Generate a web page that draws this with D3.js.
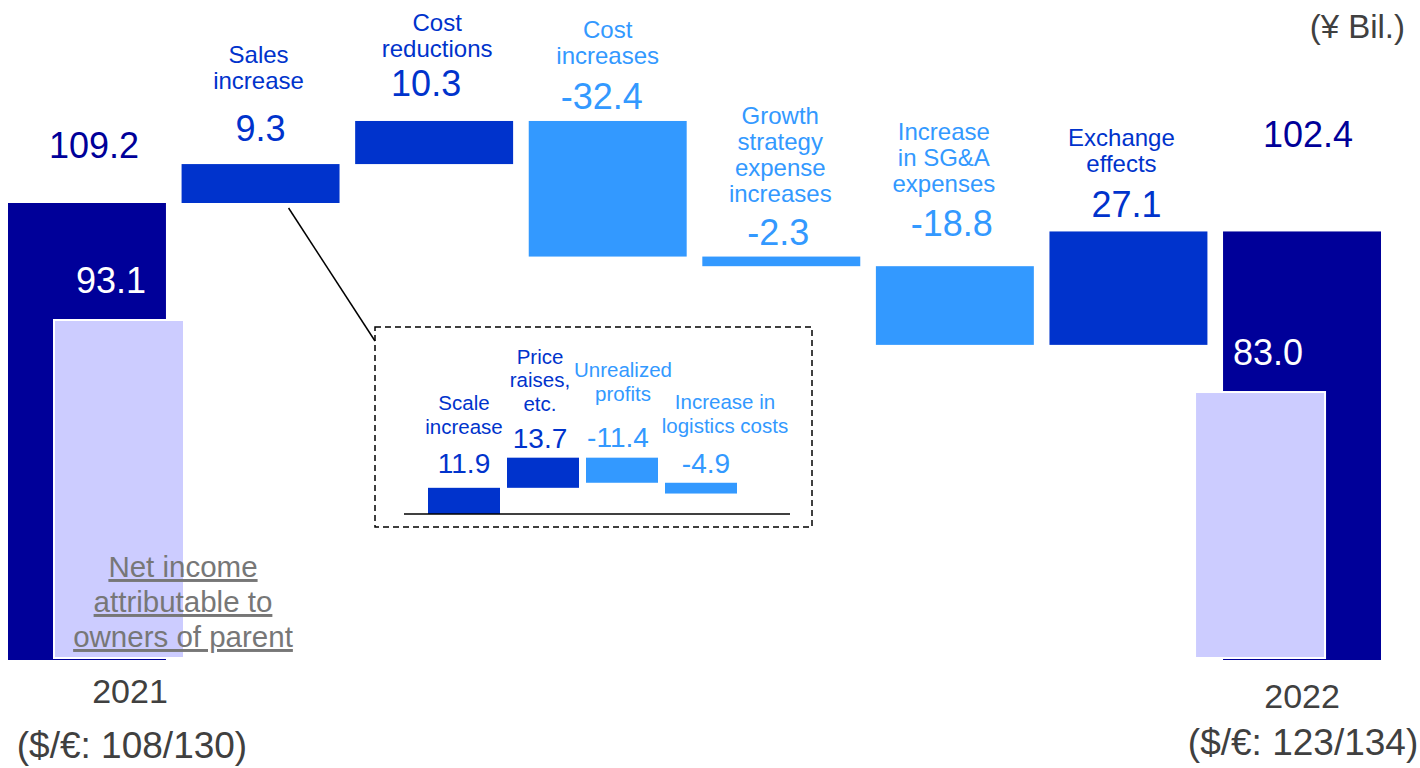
<!DOCTYPE html>
<html>
<head>
<meta charset="utf-8">
<script src="https://cdn.jsdelivr.net/npm/d3@7"></script>
<style>
  html, body { margin: 0; padding: 0; background: #ffffff; }
  svg { display: block; font-family: "Liberation Sans", Arial, sans-serif; }
</style>
</head>
<body>
<svg id="chart" width="1420" height="768"></svg>
<script>
// Net income bridge, FY2021 -> FY2022 (¥ billion)
const categories = ["2021", "Sales increase", "Cost reductions", "Cost increases",
  "Growth strategy expense increases", "Increase in SG&A expenses", "Exchange effects", "2022"];
const categoryLines = [
  [], ["Sales", "increase"], ["Cost", "reductions"], ["Cost", "increases"],
  ["Growth", "strategy", "expense", "increases"], ["Increase", "in SG&A", "expenses"],
  ["Exchange", "effects"], []
];
const kinds = ["total", "delta", "delta", "delta", "delta", "delta", "delta", "total"];
const values = [109.2, 9.3, 10.3, -32.4, -2.3, -18.8, 27.1, 102.4];

// Net income attributable to owners of parent
const netIncomeYears = ["2021", "2022"];
const netIncomeValues = [93.1, 83.0];
const fxLabels = ["($/€: 108/130)", "($/€: 123/134)"];

// Breakdown of the sales increase
const insetCategories = ["Scale increase", "Price raises, etc.", "Unrealized profits", "Increase in logistics costs"];
const insetLines = [["Scale", "increase"], ["Price", "raises,", "etc."], ["Unrealized", "profits"], ["Increase in", "logistics costs"]];
const insetValues = [11.9, 13.7, -11.4, -4.9];

const C = { total: "#000099", up: "#0033CC", down: "#3399FF", ni: "#CCCCFF", grey: "#404040", note: "#777777" };

// label placement: value-label lift above bar top, value x-nudge, gap to category text, category x-nudge
const mainLayout = [
  { lift: 45, dx: 7 }, { lift: 23, dx: 0, gap: 52, cdx: -2 }, { lift: 25, dx: -8, gap: 39, cdx: 3 },
  { lift: 12, dx: -6, gap: 45, cdx: 0 }, { lift: 12, dx: -3, gap: 43, cdx: -1 },
  { lift: 30, dx: -3, gap: 44, cdx: -11 }, { lift: 14, dx: -2, gap: 45, cdx: -7 }, { lift: 84, dx: 6 }
];
const insetLayout = [
  { lift: 15, dx: 0, gap: 39, cdx: 0 }, { lift: 10, dx: -3, gap: 37, cdx: -3 },
  { lift: 11, dx: -4, gap: 46, cdx: 1 }, { lift: 10, dx: 5, gap: 40, cdx: 24 }
];

const fmt = v => v.toFixed(1);
const svg = d3.select("#chart");

// ---- main waterfall ----
const x = d3.scaleBand().domain(categories).range([8, 1381]).paddingInner(0.09).paddingOuter(0);
const y = d3.scaleLinear().domain([0, 109.2]).range([660, 203]);
const yNI = d3.scaleLinear().domain([45.7, 93.1]).range([658, 320]);

let running = 0;
const steps = categories.map((c, i) => {
  let y0, y1;
  if (kinds[i] === "total") { y0 = 0; y1 = values[i]; running = values[i]; }
  else { y0 = running; y1 = running + values[i]; running = y1; }
  const color = kinds[i] === "total" ? C.total : (values[i] >= 0 ? C.up : C.down);
  return { c, i, y0, y1, v: values[i], color };
});

svg.append("g").selectAll("rect.step").data(steps).join("rect")
  .attr("class", "step")
  .attr("x", d => x(d.c))
  .attr("width", x.bandwidth())
  .attr("y", d => y(Math.max(d.y0, d.y1)))
  .attr("height", d => Math.abs(y(d.y0) - y(d.y1)))
  .attr("fill", d => d.color);

// net income bars overlaid on the total columns
const niOffset = { "2021": 46, "2022": -28 };
const niWidth = 130;
svg.append("g").selectAll("rect").data(netIncomeYears).join("rect")
  .attr("x", (d) => x(d) + niOffset[d])
  .attr("width", niWidth)
  .attr("y", (d, i) => yNI(netIncomeValues[i]))
  .attr("height", (d, i) => yNI.range()[0] - yNI(netIncomeValues[i]))
  .attr("fill", C.ni)
  .attr("stroke", "#ffffff")
  .attr("stroke-width", 2);

// value labels
svg.append("g").selectAll("text").data(steps).join("text")
  .attr("x", d => x(d.c) + x.bandwidth() / 2 + mainLayout[d.i].dx)
  .attr("y", d => y(Math.max(d.y0, d.y1)) - mainLayout[d.i].lift)
  .attr("text-anchor", "middle")
  .attr("font-size", 36)
  .attr("fill", d => d.color)
  .text(d => fmt(d.v));

// category labels
steps.filter(d => kinds[d.i] === "delta").forEach(d => {
  const L = mainLayout[d.i];
  const lines = categoryLines[d.i];
  const base = y(Math.max(d.y0, d.y1)) - L.lift - L.gap;
  const t = svg.append("text")
    .attr("text-anchor", "middle")
    .attr("font-size", 24)
    .attr("fill", d.color);
  lines.forEach((ln, k) => {
    t.append("tspan")
      .attr("x", x(d.c) + x.bandwidth() / 2 + L.cdx)
      .attr("y", base - (lines.length - 1 - k) * 26)
      .text(ln);
  });
});

// net income values (white, inside the dark columns)
const niLabelDx = { "2021": 103, "2022": 45 };
const niLabelLift = { "2021": 27, "2022": 27 };
svg.append("g").selectAll("text").data(netIncomeYears).join("text")
  .attr("x", d => x(d) + niLabelDx[d])
  .attr("y", (d, i) => yNI(netIncomeValues[i]) - niLabelLift[d])
  .attr("text-anchor", "middle")
  .attr("font-size", 36)
  .attr("fill", "#ffffff")
  .text((d, i) => fmt(netIncomeValues[i]));

// net income note
const note = svg.append("text")
  .attr("text-anchor", "middle")
  .attr("font-size", 29.5)
  .attr("fill", C.note)
  .attr("text-decoration", "underline");
["Net income", "attributable to", "owners of parent"].forEach((ln, k) => {
  note.append("tspan").attr("x", x("2021") + 175).attr("y", 577 + k * 35).text(ln);
});

// year and exchange-rate labels
const yearX = { "2021": 122, "2022": 79 };
const fxX = { "2021": 124, "2022": 80 };
const yearY = { "2021": 703, "2022": 708 };
const fxY = { "2021": 758, "2022": 755 };
netIncomeYears.forEach((yr, i) => {
  svg.append("text").attr("x", x(yr) + yearX[yr]).attr("y", yearY[yr])
    .attr("text-anchor", "middle").attr("font-size", 34).attr("fill", C.grey).text(yr);
  svg.append("text").attr("x", x(yr) + fxX[yr]).attr("y", fxY[yr])
    .attr("text-anchor", "middle").attr("font-size", 37).attr("fill", C.grey).text(fxLabels[i]);
});

// unit
svg.append("text").attr("x", 1405).attr("y", 38).attr("text-anchor", "end")
  .attr("font-size", 33).attr("fill", C.grey).text("(¥ Bil.)");

// ---- sales increase breakdown ----
const box = { x: 375, y: 327, w: 437, h: 200 };
svg.append("rect")
  .attr("x", box.x).attr("y", box.y).attr("width", box.w).attr("height", box.h)
  .attr("fill", "none").attr("stroke", "#000").attr("stroke-width", 1.5)
  .attr("stroke-dasharray", "6,4");

// leader from the sales-increase bar to the breakdown box
const salesStep = steps[1];
svg.append("line")
  .attr("x1", x("Sales increase") + 107).attr("y1", y(salesStep.y0) + 5)
  .attr("x2", box.x).attr("y2", box.y + 14)
  .attr("stroke", "#000").attr("stroke-width", 1.5);

const xi = d3.scaleBand().domain(insetCategories).range([428, 737]).paddingInner(0.0886).paddingOuter(0);
const yi = d3.scaleLinear().domain([0, 30]).range([514, 448]);

let run2 = 0;
const insetSteps = insetCategories.map((c, i) => {
  const y0 = run2, y1 = run2 + insetValues[i];
  run2 = y1;
  return { c, i, y0, y1, v: insetValues[i], color: insetValues[i] >= 0 ? C.up : C.down };
});

svg.append("g").selectAll("rect").data(insetSteps).join("rect")
  .attr("x", d => xi(d.c))
  .attr("width", xi.bandwidth())
  .attr("y", d => yi(Math.max(d.y0, d.y1)))
  .attr("height", d => Math.abs(yi(d.y0) - yi(d.y1)))
  .attr("fill", d => d.color);

svg.append("line")
  .attr("x1", 404).attr("x2", 790).attr("y1", yi(0)).attr("y2", yi(0))
  .attr("stroke", "#000").attr("stroke-width", 1.5);

svg.append("g").selectAll("text").data(insetSteps).join("text")
  .attr("x", d => xi(d.c) + xi.bandwidth() / 2 + insetLayout[d.i].dx)
  .attr("y", d => yi(Math.max(d.y0, d.y1)) - insetLayout[d.i].lift)
  .attr("text-anchor", "middle")
  .attr("font-size", 28)
  .attr("fill", d => d.color)
  .text(d => fmt(d.v));

insetSteps.forEach(d => {
  const L = insetLayout[d.i];
  const lines = insetLines[d.i];
  const base = yi(Math.max(d.y0, d.y1)) - L.lift - L.gap;
  const t = svg.append("text").attr("text-anchor", "middle").attr("font-size", 20.5).attr("fill", d.color);
  lines.forEach((ln, k) => {
    t.append("tspan")
      .attr("x", xi(d.c) + xi.bandwidth() / 2 + L.cdx)
      .attr("y", base - (lines.length - 1 - k) * 23.5)
      .text(ln);
  });
});
</script>
</body>
</html>
